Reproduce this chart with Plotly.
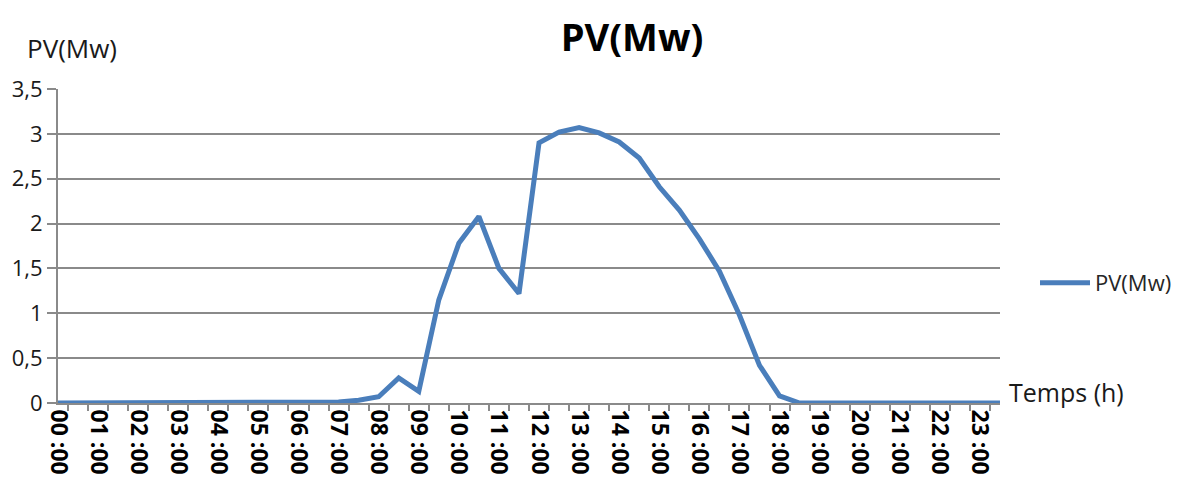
import plotly.graph_objects as go

# Categories: half-hour steps
times = ["00:00", "00:30", "01:00", "01:30", "02:00", "02:30", "03:00", "03:30",
         "04:00", "04:30", "05:00", "05:30", "06:00", "06:30", "07:00", "07:30",
         "08:00", "08:30", "09:00", "09:30", "10:00", "10:30", "11:00", "11:30",
         "12:00", "12:30", "13:00", "13:30", "14:00", "14:30", "15:00", "15:30",
         "16:00", "16:30", "17:00", "17:30", "18:00", "18:30", "19:00", "19:30",
         "20:00", "20:30", "21:00", "21:30", "22:00", "22:30", "23:00", "23:30"]

pv = [0, 0, 0, 0, 0, 0, 0, 0,
      0, 0, 0, 0, 0, 0.0, 0.01, 0.03,
      0.07, 0.28, 0.13, 1.15, 1.78, 2.08, 1.50, 1.22,
      2.90, 3.02, 3.07, 3.01, 2.91, 2.73, 2.41, 2.15,
      1.83, 1.47, 0.98, 0.42, 0.08, 0, 0, 0,
      0, 0, 0, 0, 0, 0, 0, 0]

x_tick_text = ["00 :00", "", "01 :00", "", "02 :00", "", "03 :00", "",
               "04 :00", "", "05 :00", "", "06 :00", "", "07 :00", "",
               "08 :00", "", "09 :00", "", "10 :00", "", "11 :00", "",
               "12 :00", "", "13 :00", "", "14 :00", "", "15 :00", "",
               "16 :00", "", "17 :00", "", "18 :00", "", "19 :00", "",
               "20 :00", "", "21 :00", "", "22 :00", "", "23 :00", ""]

y_tick_vals = [0, 0.5, 1, 1.5, 2, 2.5, 3, 3.5]
y_tick_text = ["0", "0,5", "1", "1,5", "2", "2,5", "3", "3,5"]

series_name = "PV(Mw)"
title_text = "PV(Mw)"
x_title = "Temps (h)"
y_title = "PV(Mw)"

FONT = "Open Sans"
GRID = "#8a8a8a"
BLUE = "#4a7ebb"

# page body has an 8px margin; figure is sized/placed to compensate
W, H = 1189, 480

fig = go.Figure()
fig.add_trace(go.Scatter(
    x=times, y=pv, mode="lines", name=series_name,
    line=dict(color=BLUE, width=5), cliponaxis=False,
))

fig.update_layout(
    width=W, height=H,
    margin=dict(l=50, r=197, t=81, b=85, autoexpand=False),
    paper_bgcolor="white", plot_bgcolor="white",
    font=dict(family=FONT, color="#1a1a1a"),
    title=dict(text=title_text, x=624 / W, xanchor="center",
               y=1 - 30 / H, yanchor="middle", xref="container", yref="container",
               font=dict(family=FONT, size=38, color="#000000", weight="bold")),
    showlegend=True,
    legend=dict(x=(1027 - 50) / 942, y=(395 - 275) / 314, xanchor="left", yanchor="middle",
                font=dict(family=FONT, size=22, color="#262626"),
                bgcolor="rgba(0,0,0,0)", itemwidth=50),
    annotations=[
        dict(text=x_title, xref="paper", yref="paper", x=(999 - 50) / 942, y=(395 - 384) / 314,
             xanchor="left", yanchor="middle", showarrow=False,
             font=dict(family=FONT, size=25, color="#1a1a1a")),
        dict(text=y_title, xref="paper", yref="paper", x=(17 - 50) / 942, y=(395 - 40) / 314,
             xanchor="left", yanchor="middle", showarrow=False,
             font=dict(family=FONT, size=26, color="#1a1a1a")),
    ],
)

fig.update_xaxes(
    type="category", tickmode="array", tickvals=times, ticktext=x_tick_text,
    tickson="boundaries", ticks="outside", ticklen=6, tickwidth=2, tickcolor=GRID,
    showline=True, linecolor=GRID, linewidth=2, showgrid=False, zeroline=False,
    tickangle=90, layer="below traces",
    tickfont=dict(family=FONT, size=23, color="#000000", weight="bold"),
)
fig.update_yaxes(
    range=[0, 3.5], tickmode="array", tickvals=y_tick_vals, ticktext=y_tick_text,
    showgrid=True, gridcolor=GRID, gridwidth=2,
    showline=True, linecolor=GRID, linewidth=2, zeroline=False,
    ticks="outside", ticklen=9, tickwidth=2, tickcolor=GRID, layer="below traces",
    tickfont=dict(family=FONT, size=22, color="#1a1a1a"),
)

fig.write_html("out.html")
